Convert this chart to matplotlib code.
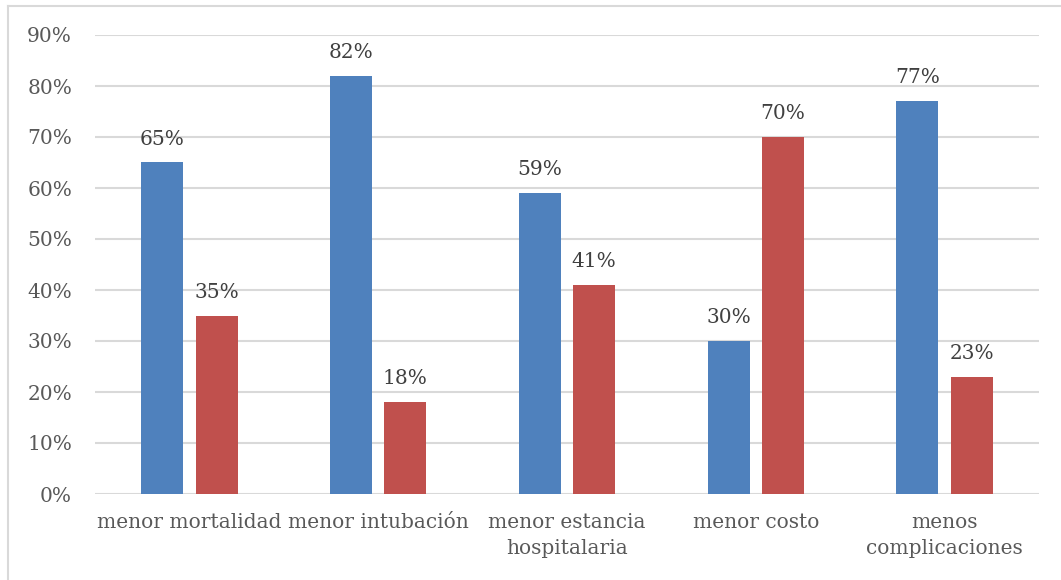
import numpy as np
import matplotlib.pyplot as plt
from matplotlib.lines import Line2D

categories = ["menor mortalidad", "menor intubación", "menor estancia\nhospitalaria",
              "menor costo", "menos\ncomplicaciones"]
serie_a = [65, 82, 59, 30, 77]
serie_b = [35, 18, 41, 70, 23]
yticks = [0, 10, 20, 30, 40, 50, 60, 70, 80, 90]

blue = "#4F81BD"
red = "#C0504D"
txt = "#595959"
grid = "#D9D9D9"

plt.rcParams['font.family'] = ['DejaVu Serif']

fig = plt.figure(figsize=(10.61, 5.80), dpi=100)
W, H = 1061, 580
ax = fig.add_axes([95 / W, 1 - 494 / H, (1039 - 95) / W, (494 - 35) / H])

x = np.arange(len(categories))
bw = 0.223
off = 0.144
ax.bar(x - off, serie_a, bw, color=blue, zorder=3)
ax.bar(x + off, serie_b, bw, color=red, zorder=3)

for xi, v in zip(x - off, serie_a):
    ax.annotate(f"{v}%", (xi, v), xytext=(0, 10), textcoords="offset points",
                ha="center", va="bottom", fontsize=14.5, color="#404040")
for xi, v in zip(x + off, serie_b):
    ax.annotate(f"{v}%", (xi, v), xytext=(0, 10), textcoords="offset points",
                ha="center", va="bottom", fontsize=14.5, color="#404040")

ax.set_xlim(-0.5, len(categories) - 0.5)
ax.set_ylim(0, 90)
ax.set_yticks(yticks)
ax.set_yticklabels([f"{t}%" for t in yticks])
ax.set_xticks(x)
ax.set_xticklabels(categories, linespacing=1.45)
ax.tick_params(axis="both", length=0, labelsize=14.5, labelcolor=txt)
ax.tick_params(axis="y", pad=16.5)
ax.tick_params(axis="x", pad=14)
ax.grid(axis="y", color=grid, linewidth=1.5, zorder=0)
for s in ax.spines.values():
    s.set_visible(False)

# outer chart frame (left and top edges only)
fig.add_artist(Line2D([7.5 / W, 7.5 / W], [0, 1 - 6 / H], color=grid, linewidth=1.5))
fig.add_artist(Line2D([7.5 / W, 1], [1 - 6 / H, 1 - 6 / H], color=grid, linewidth=1.5))

fig.savefig("out.png", dpi=100)
